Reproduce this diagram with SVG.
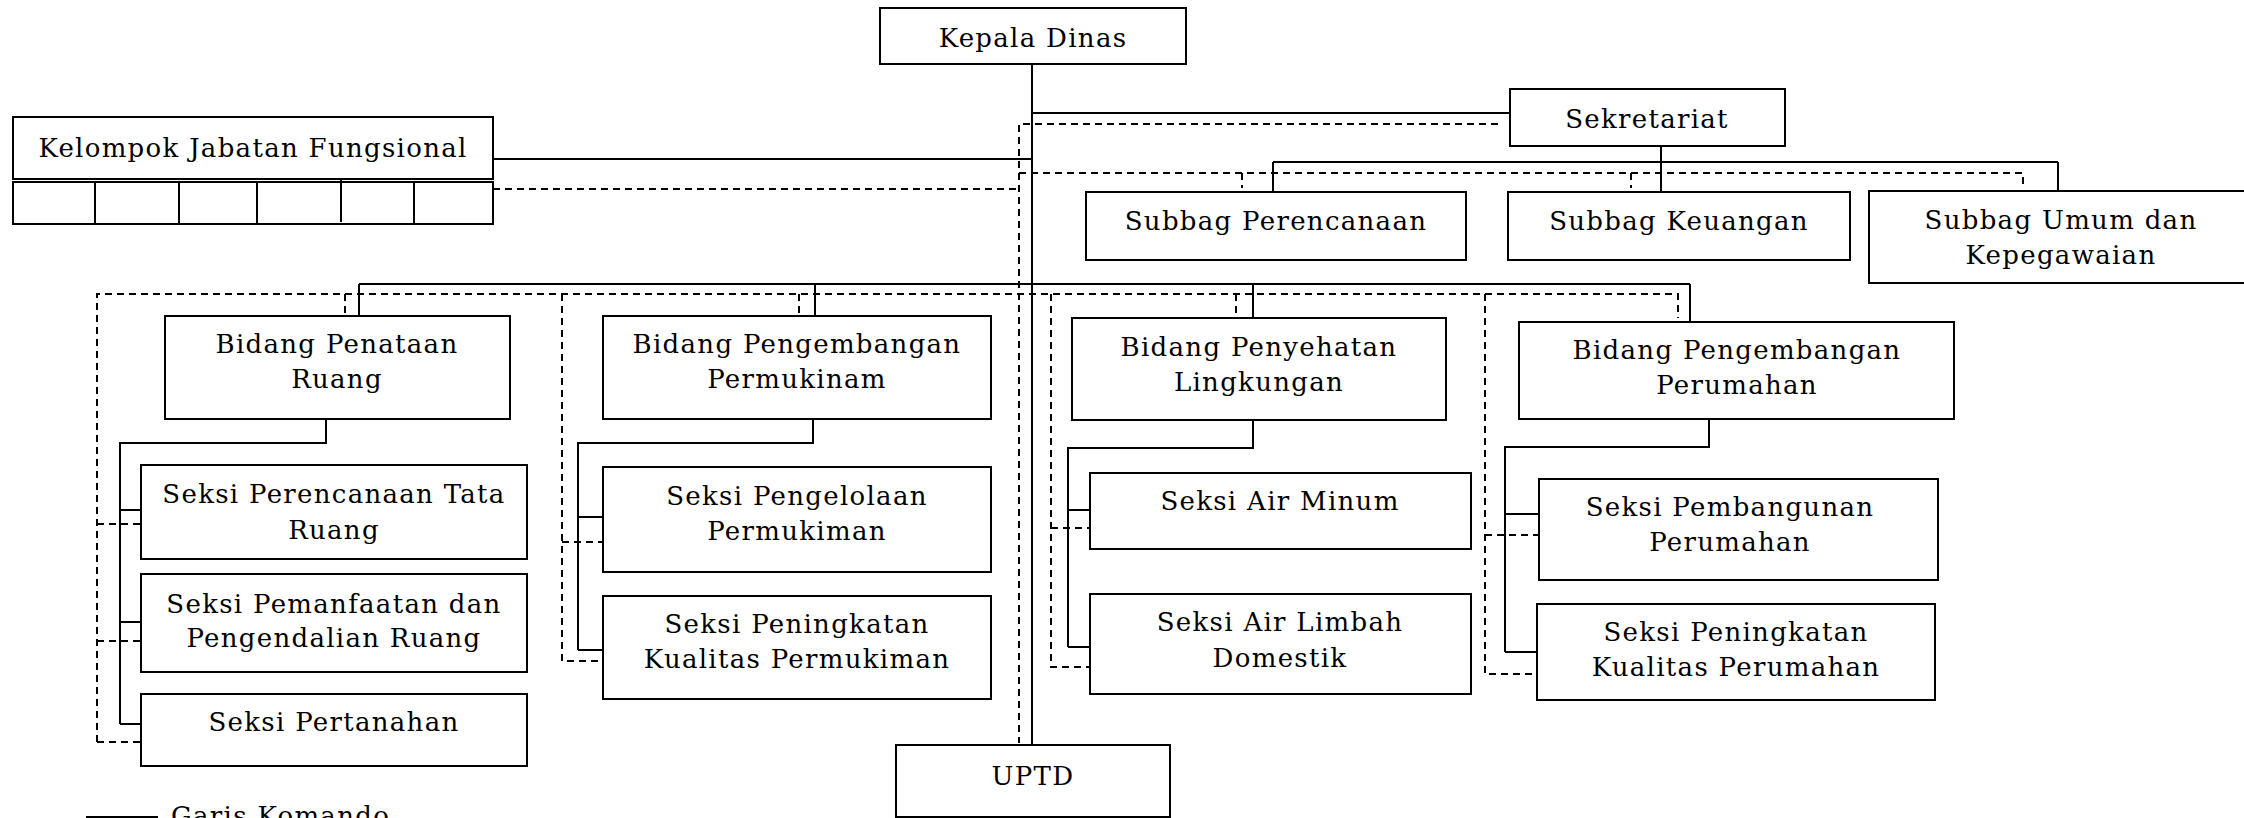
<svg xmlns="http://www.w3.org/2000/svg" width="2244" height="818" viewBox="0 0 2244 818">
<style>
rect.b{fill:#fff;stroke:#000;stroke-width:2}
text{font-family:"DejaVu Serif","Liberation Serif",serif;font-size:26px;letter-spacing:1.3px;fill:#000;text-anchor:middle}
.s{fill:none;stroke:#000;stroke-width:2}
.d{fill:none;stroke:#000;stroke-width:2;stroke-dasharray:7 5}
</style>
<rect width="2244" height="818" fill="#fff"/>
<g id="connectors">
<path class="s" d="M1032 64V745M1032 113H1510M493 159H1032M1661 146V192M1273 162H2058M1273 162V192M2058 162V191M359 284H1690M359 284V316M815 284V316M1253 284V318M1690 284V322"/>
<path class="s" d="M326 419V443H120V724M120 510H141M120 622H141M120 724H141"/>
<path class="s" d="M813 419V443H578V650M578 517H603M578 650H603"/>
<path class="s" d="M1253 420V448H1068V647M1068 510H1090M1068 647H1090"/>
<path class="s" d="M1709 419V447H1505V652M1505 514H1539M1505 652H1537"/>
<path class="d" d="M1498 124H1019V743M1019 173H2023V188M1242 173V188M1631 173V188M493 189H1019"/>
<path class="d" d="M97 742V294H1678V318M345 294V316M799 294V316M1236 294V318"/>
<path class="d" d="M97 524H141M97 641H141M97 742H141"/>
<path class="d" d="M562 294V661H603M562 542H603"/>
<path class="d" d="M1051 294V667H1090M1051 528H1090"/>
<path class="d" d="M1485 294V674H1537M1485 535H1539"/>
</g>
<g id="kepala-dinas"><rect class="b" x="880" y="8" width="306" height="56"/><text x="1033" y="47">Kepala Dinas</text></g>
<g id="sekretariat"><rect class="b" x="1510" y="89" width="275" height="57"/><text x="1647" y="128">Sekretariat</text></g>
<g id="kelompok-jabatan-fungsional"><rect class="b" x="13" y="117" width="480" height="62"/><text x="253" y="157">Kelompok Jabatan Fungsional</text>
<rect class="b" x="13" y="182" width="480" height="42"/>
<path class="s" d="M95 182V224M179 182V224M257 182V224M341 180V222M414 182V224"/></g>
<g id="subbag-perencanaan"><rect class="b" x="1086" y="192" width="380" height="68"/><text x="1276" y="230">Subbag Perencanaan</text></g>
<g id="subbag-keuangan"><rect class="b" x="1508" y="192" width="342" height="68"/><text x="1679" y="230">Subbag Keuangan</text></g>
<g id="subbag-umum"><rect class="b" x="1869" y="191" width="381" height="92"/><text x="2061" y="229">Subbag Umum dan</text><text x="2061" y="264">Kepegawaian</text></g>
<g id="bidang-penataan-ruang"><rect class="b" x="165" y="316" width="345" height="103"/><text x="337" y="353">Bidang Penataan</text><text x="337" y="388">Ruang</text></g>
<g id="bidang-pengembangan-permukinam"><rect class="b" x="603" y="316" width="388" height="103"/><text x="797" y="353">Bidang Pengembangan</text><text x="797" y="388">Permukinam</text></g>
<g id="bidang-penyehatan-lingkungan"><rect class="b" x="1072" y="318" width="374" height="102"/><text x="1259" y="356">Bidang Penyehatan</text><text x="1259" y="391">Lingkungan</text></g>
<g id="bidang-pengembangan-perumahan"><rect class="b" x="1519" y="322" width="435" height="97"/><text x="1737" y="359">Bidang Pengembangan</text><text x="1737" y="394">Perumahan</text></g>
<g id="seksi-perencanaan-tata-ruang"><rect class="b" x="141" y="465" width="386" height="94"/><text x="334" y="503">Seksi Perencanaan Tata</text><text x="334" y="539">Ruang</text></g>
<g id="seksi-pemanfaatan"><rect class="b" x="141" y="574" width="386" height="98"/><text x="334" y="613">Seksi Pemanfaatan dan</text><text x="334" y="647">Pengendalian Ruang</text></g>
<g id="seksi-pertanahan"><rect class="b" x="141" y="694" width="386" height="72"/><text x="334" y="731">Seksi Pertanahan</text></g>
<g id="seksi-pengelolaan-permukiman"><rect class="b" x="603" y="467" width="388" height="105"/><text x="797" y="505">Seksi Pengelolaan</text><text x="797" y="540">Permukiman</text></g>
<g id="seksi-peningkatan-kualitas-permukiman"><rect class="b" x="603" y="596" width="388" height="103"/><text x="797" y="633">Seksi Peningkatan</text><text x="797" y="668">Kualitas Permukiman</text></g>
<g id="seksi-air-minum"><rect class="b" x="1090" y="473" width="381" height="76"/><text x="1280" y="510">Seksi Air Minum</text></g>
<g id="seksi-air-limbah-domestik"><rect class="b" x="1090" y="594" width="381" height="100"/><text x="1280" y="631">Seksi Air Limbah</text><text x="1280" y="667">Domestik</text></g>
<g id="seksi-pembangunan-perumahan"><rect class="b" x="1539" y="479" width="399" height="101"/><text x="1730" y="516">Seksi Pembangunan</text><text x="1730" y="551">Perumahan</text></g>
<g id="seksi-peningkatan-kualitas-perumahan"><rect class="b" x="1537" y="604" width="398" height="96"/><text x="1736" y="641">Seksi Peningkatan</text><text x="1736" y="676">Kualitas Perumahan</text></g>
<g id="uptd"><rect class="b" x="896" y="745" width="274" height="72"/><text x="1033" y="785">UPTD</text></g>
<g id="legend"><path class="s" d="M86 817H158"/><text x="171" y="825" style="text-anchor:start">Garis Komando</text></g>
</svg>
